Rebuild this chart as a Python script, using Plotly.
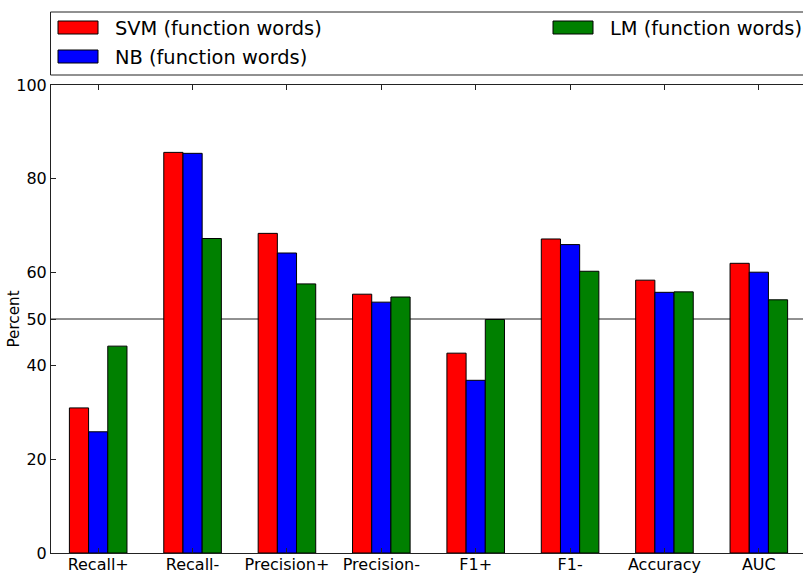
import plotly.graph_objects as go

# data
metrics = ["Recall+", "Recall-", "Precision+", "Precision-", "F1+", "F1-", "Accuracy", "AUC"]
svm_fw = [31.0, 85.6, 68.3, 55.3, 42.7, 67.1, 58.3, 61.9]
nb_fw = [25.9, 85.4, 64.1, 53.6, 36.9, 65.9, 55.7, 60.0]
lm_fw = [44.2, 67.2, 57.5, 54.7, 49.9, 60.2, 55.8, 54.1]
series_names = ["SVM (function words)", "NB (function words)", "LM (function words)"]
series_colors = ["#ff0000", "#0000ff", "#008000"]
y_ticks = [0, 20, 40, 50, 60, 80, 100]

W, H = 803, 573
L, R, T, B = 51, 0, 85, 20
FONT = "DejaVu Sans"


def px_x(px):
    return (px - L) / (W - L - R)


def px_y(py):
    return (H - B - py) / (H - T - B)


fig = go.Figure()
for name, vals, col in zip(series_names, [svm_fw, nb_fw, lm_fw], series_colors):
    fig.add_trace(go.Bar(x=metrics, y=vals, name=name, marker_color=col,
                         marker_line=dict(color="black", width=1)))

# horizontal reference line at 50
fig.add_shape(type="line", xref="paper", yref="y", x0=0, x1=1, y0=50, y1=50,
              line=dict(color="#222", width=1), layer="below")

# legend box drawn by hand (matplotlib style, two columns)
fig.add_shape(type="rect", xref="paper", yref="paper",
              x0=px_x(50.5), x1=px_x(830), y0=px_y(75), y1=px_y(12),
              line=dict(color="#222", width=1), fillcolor="white")
legend_pos = [(58, 21), (58, 50), (553, 21)]
for (lx, ly), name, col in zip(legend_pos, series_names, series_colors):
    fig.add_shape(type="rect", xref="paper", yref="paper",
                  x0=px_x(lx), x1=px_x(lx + 40), y0=px_y(ly + 13), y1=px_y(ly),
                  line=dict(color="black", width=1), fillcolor=col)
    fig.add_annotation(text=name, xref="paper", yref="paper",
                       x=px_x(lx + 55), y=px_y(ly + 7.5), xanchor="left", yanchor="middle",
                       showarrow=False, font=dict(family=FONT, size=19.4, color="black"))

# y axis label, placed like matplotlib's ylabel
fig.add_annotation(text="Percent", xref="paper", yref="paper", x=px_x(13.5), y=0.5,
                   xanchor="center", yanchor="middle", textangle=-90, showarrow=False,
                   font=dict(family=FONT, size=15.2, color="black"))

fig.update_layout(
    width=W, height=H,
    margin=dict(l=L, r=R, t=T, b=B, pad=0),
    plot_bgcolor="white", paper_bgcolor="white",
    barmode="group", bargap=0.39, bargroupgap=0,
    showlegend=False,
    font=dict(family=FONT, size=16, color="black"),
    xaxis=dict(range=[-0.5, 7.468], showgrid=False, showline=True, linecolor="#222",
               linewidth=1, mirror="ticks", ticks="inside", ticklen=5, tickcolor="#222",
               tickfont=dict(size=16), automargin=False, ticklabelstandoff=-3),
    yaxis=dict(range=[0, 100], tickvals=y_ticks, showgrid=False, zeroline=False,
               showline=True, linecolor="#222", linewidth=1, ticks="inside", ticklen=5,
               tickcolor="#222", tickfont=dict(size=16), automargin=False),
    yaxis2=dict(range=[0, 100], tickvals=y_ticks, overlaying="y", side="right",
                showgrid=False, zeroline=False, showline=False, showticklabels=False,
                ticks="inside", ticklen=3, tickcolor="#222"),
)

# the page has a default 8px body margin; remove it so the figure sits at the corner
fig.write_html("out.html", config={"displayModeBar": False},
               post_script="document.body.style.margin='0';")
